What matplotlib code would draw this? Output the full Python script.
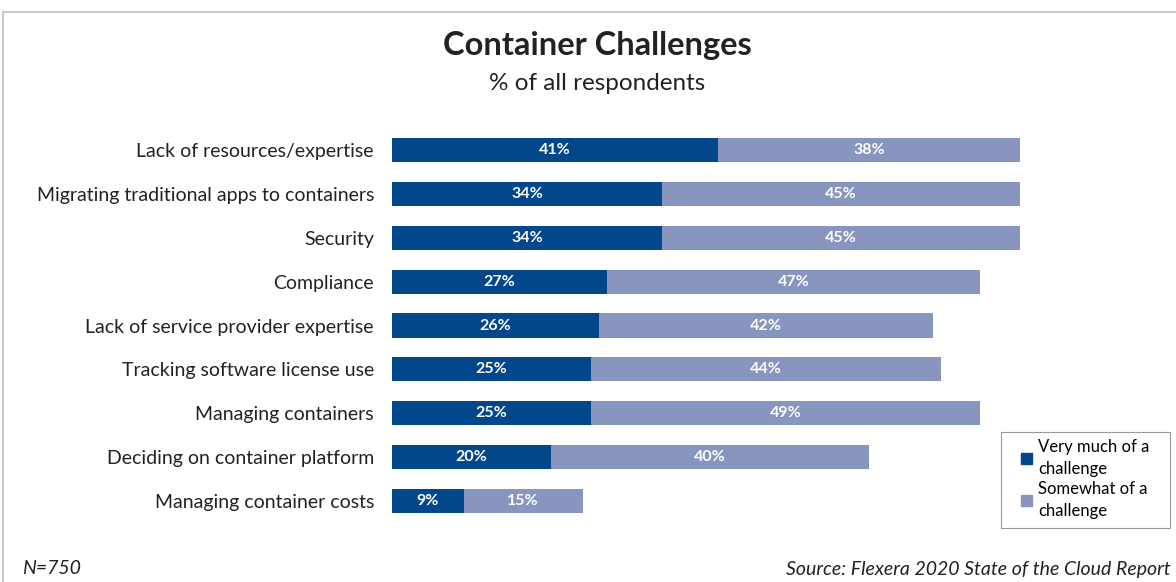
import matplotlib
matplotlib.use("Agg")
import matplotlib.pyplot as plt
from matplotlib.patches import Rectangle, Patch

categories = [
    "Lack of resources/expertise",
    "Migrating traditional apps to containers",
    "Security",
    "Compliance",
    "Lack of service provider expertise",
    "Tracking software license use",
    "Managing containers",
    "Deciding on container platform",
    "Managing container costs",
]
very_much = [41, 34, 34, 27, 26, 25, 25, 20, 9]
somewhat = [38, 45, 45, 47, 42, 44, 49, 40, 15]
series_names = ["Very much of a\nchallenge", "Somewhat of a\nchallenge"]

DARK = "#02468c"
LIGHT = "#8795bf"
FONT = ["Lato", "DejaVu Sans"]
plt.rcParams["font.family"] = FONT

W, H = 1176, 582
fig = plt.figure(figsize=(W / 100, H / 100), dpi=100)

# border frame
fig.patches.append(Rectangle((3 / W, -0.1), 1.2, 1.1 - 12 / H, transform=fig.transFigure,
                             fill=False, edgecolor="#c9c9c9", linewidth=1.5))

left, right = 392, 392 + 80 * 7.95
top, bottom = 128, 523
ax = fig.add_axes([left / W, 1 - bottom / H, (right - left) / W, (bottom - top) / H])

y = list(range(len(categories)))
ax.barh(y, very_much, height=0.55, color=DARK)
ax.barh(y, somewhat, left=very_much, height=0.55, color=LIGHT)
for i in y:
    ax.text(very_much[i] / 2, i, f"{very_much[i]}%", ha="center", va="center",
            color="white", fontsize=11.5, fontweight="bold")
    ax.text(very_much[i] + somewhat[i] / 2, i, f"{somewhat[i]}%", ha="center", va="center",
            color="white", fontsize=11.5, fontweight="bold")

ax.set_xlim(0, 80)
ax.set_ylim(len(categories) - 0.5, -0.5)
ax.set_yticks(y)
ax.set_yticklabels(categories, fontsize=14, color="#222222")
ax.tick_params(axis="y", length=0, pad=13)
ax.set_xticks([])
for s in ax.spines.values():
    s.set_visible(False)

fig.text(597 / W, 1 - 46 / H, "Container Challenges", ha="center", va="center",
         fontsize=23.5, fontweight="bold", color="#222222")
fig.text(597 / W, 1 - 84 / H, "% of all respondents", ha="center", va="center",
         fontsize=17.5, color="#222222")

# legend frame
fig.patches.append(Rectangle((1001 / W, 1 - 528 / H), 169 / W, 96 / H,
                             transform=fig.transFigure, fill=False,
                             edgecolor="#999999", linewidth=0.8))
handles = [Patch(color=DARK), Patch(color=LIGHT)]
leg = fig.legend(handles, series_names, loc="upper left",
                 bbox_to_anchor=(1018 / W, 1 - 436 / H), borderaxespad=0, fontsize=12,
                 frameon=False,
                 handlelength=0.65, handleheight=0.65, handletextpad=0.35,
                 borderpad=0.2, labelspacing=0.25)
for t in leg.get_texts():
    t.set_linespacing(1.45)

fig.text(22 / W, 1 - 569 / H, "N=750", ha="left", va="center", fontsize=14,
         style="italic", color="#222222")
fig.text(1171 / W, 1 - 569 / H, "Source: Flexera 2020 State of the Cloud Report",
         ha="right", va="center", fontsize=14, style="italic", color="#222222")

fig.savefig("out.png", dpi=100)
